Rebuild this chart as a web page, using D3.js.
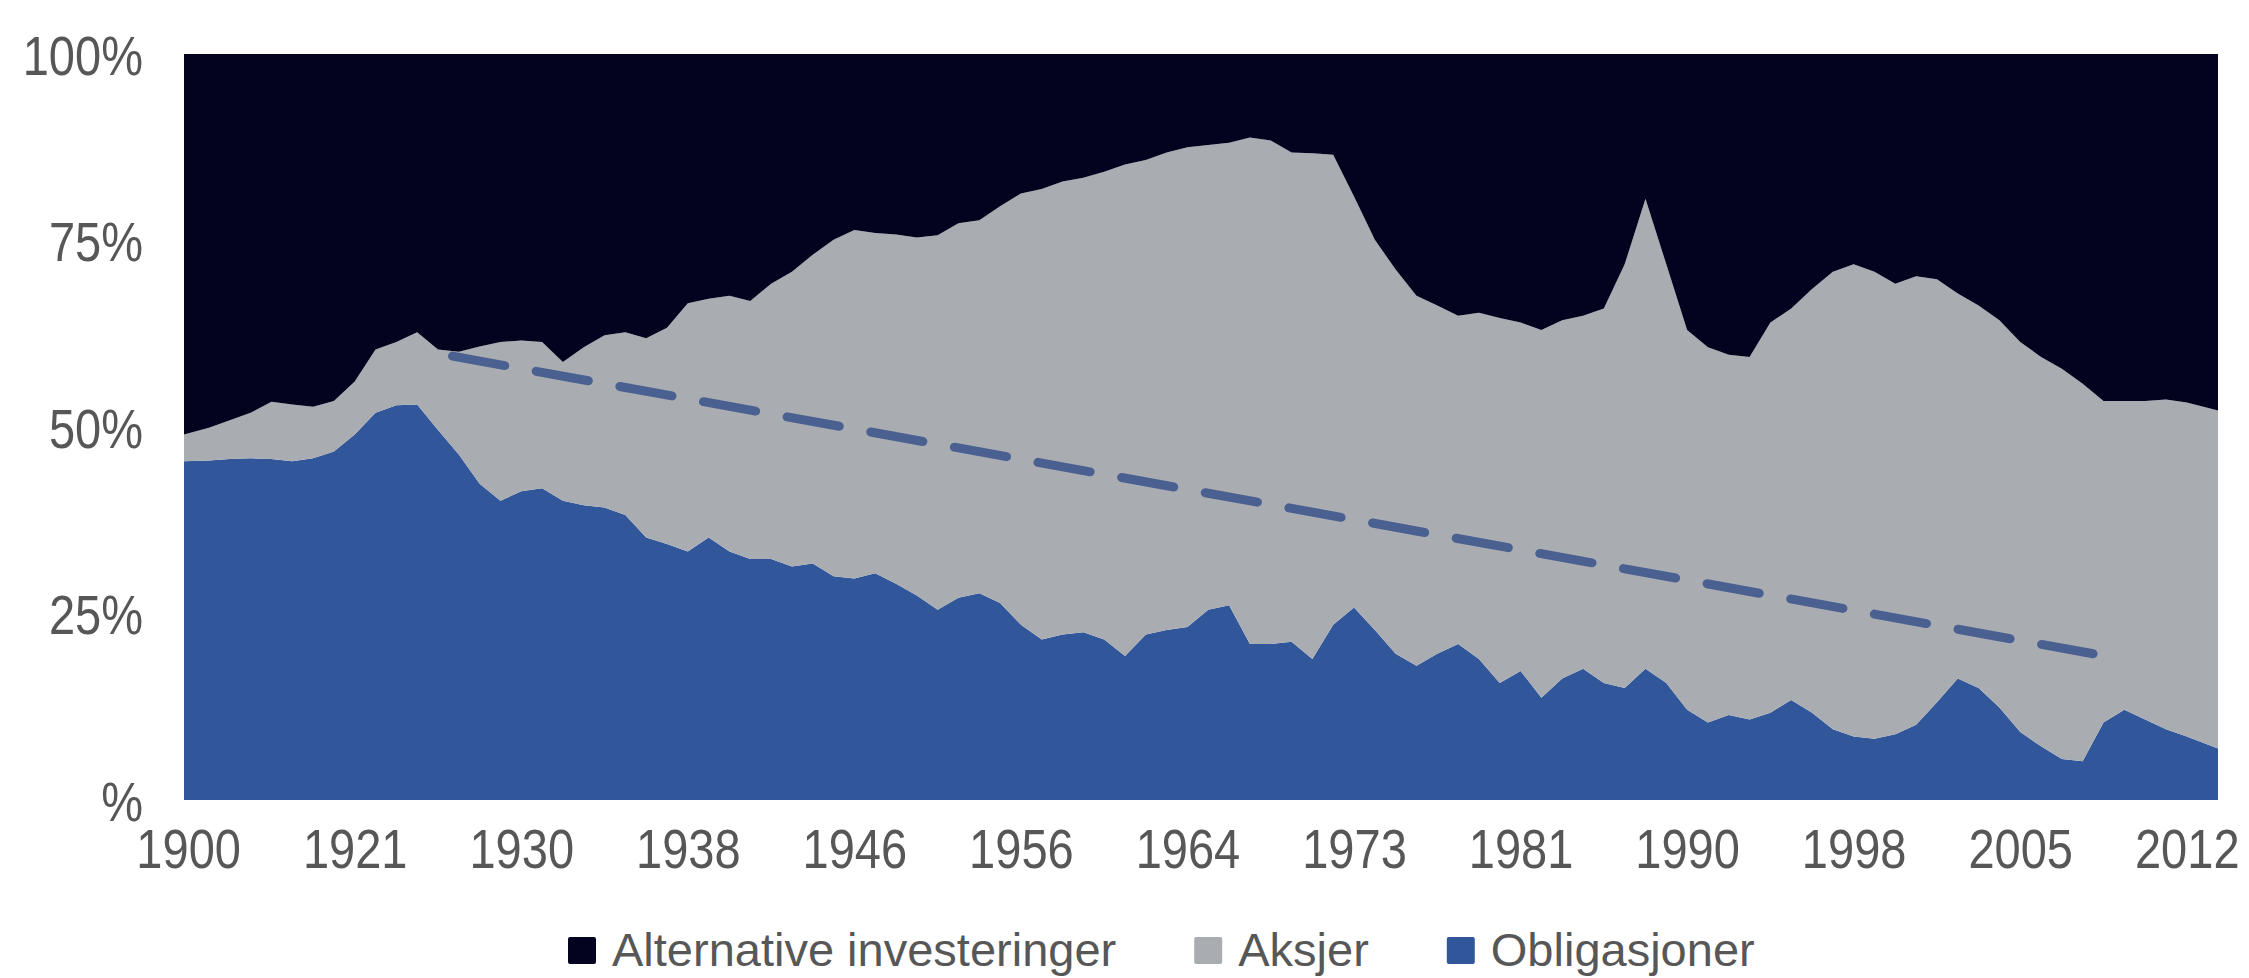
<!DOCTYPE html>
<html>
<head>
<meta charset="utf-8">
<script src="https://cdn.jsdelivr.net/npm/d3@7"></script>
<style>
  body { margin: 0; background: #fff; }
  .axis text { fill: #575757; font-family: "Liberation Sans", Arial, sans-serif; font-size: 56px; }
  .legend text { fill: #575757; font-family: "Liberation Sans", Arial, sans-serif; font-size: 47px; }
</style>
</head>
<body>
<script>
// x tick labels (one every 8 samples)
const xLabels = ['1900', '1921', '1930', '1938', '1946', '1956', '1964', '1973', '1981', '1990', '1998', '2005', '2012']
const yLabels = ['%', '25%', '50%', '75%', '100%']

// share of portfolio, %
const obligasjoner = [
  45.4, 45.5, 45.7, 45.8, 45.7, 45.4, 45.8, 46.7, 49.0, 51.9,
  52.9, 53.0, 49.6, 46.3, 42.4, 40.1, 41.4, 41.8, 40.1, 39.5,
  39.2, 38.2, 35.2, 34.3, 33.3, 35.2, 33.3, 32.3, 32.3, 31.3,
  31.7, 30.0, 29.7, 30.4, 29.0, 27.4, 25.5, 27.1, 27.7, 26.4,
  23.5, 21.5, 22.2, 22.5, 21.5, 19.3, 22.2, 22.8, 23.2, 25.5,
  26.1, 20.9, 20.9, 21.2, 18.9, 23.5, 25.8, 22.8, 19.6, 18.0,
  19.6, 20.9, 18.9, 15.7, 17.3, 13.7, 16.3, 17.6, 15.7, 15.0,
  17.6, 15.7, 12.1, 10.4, 11.4, 10.8, 11.7, 13.4, 11.7, 9.5,
  8.5, 8.2, 8.8, 10.1, 13.1, 16.3, 15.0, 12.4, 9.1, 7.2,
  5.5, 5.2, 10.4, 12.1, 10.8, 9.5, 8.5, 6.9
]
const aksjer = [
  3.6, 4.4, 5.2, 6.1, 7.7, 7.6, 6.9, 6.8, 7.1, 8.5,
  8.5, 9.7, 10.8, 13.8, 18.4, 21.3, 20.2, 19.6, 18.6, 21.2,
  23.1, 24.5, 26.7, 29.0, 33.3, 32.0, 34.3, 34.6, 36.9, 39.5,
  41.4, 45.1, 46.7, 45.6, 46.8, 48.0, 50.2, 50.2, 50.0, 53.2,
  57.8, 60.4, 60.7, 60.9, 62.7, 65.9, 63.6, 64.0, 64.3, 62.3,
  62.0, 67.9, 67.5, 65.6, 67.8, 63.0, 55.1, 52.3, 51.5, 49.6,
  46.7, 44.0, 46.4, 48.9, 46.7, 49.3, 48.0, 47.3, 50.2, 56.8,
  63.0, 56.1, 50.9, 50.3, 48.3, 48.6, 52.3, 52.5, 56.8, 61.3,
  63.3, 62.6, 60.4, 60.1, 56.7, 51.6, 51.3, 51.9, 52.3, 52.2,
  52.3, 50.6, 43.1, 41.4, 42.7, 44.2, 44.8, 45.3
]
const alternative = [
  51.0, 50.1, 49.1, 48.1, 46.6, 47.0, 47.3, 46.5, 43.9, 39.6,
  38.6, 37.3, 39.6, 39.9, 39.2, 38.6, 38.4, 38.6, 41.3, 39.3,
  37.7, 37.3, 38.1, 36.7, 33.4, 32.8, 32.4, 33.1, 30.8, 29.2,
  26.9, 24.9, 23.6, 24.0, 24.2, 24.6, 24.3, 22.7, 22.3, 20.4,
  18.7, 18.1, 17.1, 16.6, 15.8, 14.8, 14.2, 13.2, 12.5, 12.2,
  11.9, 11.2, 11.6, 13.2, 13.3, 13.5, 19.1, 24.9, 28.9, 32.4,
  33.7, 35.1, 34.7, 35.4, 36.0, 37.0, 35.7, 35.1, 34.1, 28.2,
  19.4, 28.2, 37.0, 39.3, 40.3, 40.6, 36.0, 34.1, 31.5, 29.2,
  28.2, 29.2, 30.8, 29.8, 30.2, 32.1, 33.7, 35.7, 38.6, 40.6,
  42.2, 44.2, 46.5, 46.5, 46.5, 46.3, 46.7, 47.8
]

// dashed trend line: sample position and level
const trendPos = [12.7, 91.5]
const trendVal = [59.5, 19.6]

const keys = ['obligasjoner', 'aksjer', 'alternative']
const names = { alternative: 'Alternative investeringer', aksjer: 'Aksjer', obligasjoner: 'Obligasjoner' }
const colors = { alternative: '#03031f', aksjer: '#a9acb1', obligasjoner: '#31579a' }

const table = obligasjoner.map((v, i) => ({
  i: i,
  obligasjoner: v,
  aksjer: aksjer[i],
  alternative: alternative[i]
}))

const width = 2249
const height = 978
const margin = { left: 184, right: 31, top: 54, bottom: 178 }

const svg = d3.select('body')
  .append('svg')
  .attr('width', width)
  .attr('height', height)

const x = d3.scaleLinear()
  .domain([-0.2, 97.5])
  .range([margin.left, width - margin.right])

const y = d3.scaleLinear()
  .domain([0, 100])
  .range([height - margin.bottom, margin.top])

const last = table.length - 1
// first and last sample run out to the plot edges
const xPos = i => i === 0 ? x.domain()[0] : i === last ? x.domain()[1] : i

const series = d3.stack().keys(keys)(table)

const area = d3.area()
  .x(d => x(xPos(d.data.i)))
  .y0(d => y(d[0]))
  .y1(d => y(d[1]))

svg.append('g')
  .selectAll('path')
  .data(series)
  .enter()
  .append('path')
  .attr('fill', d => colors[d.key])
  .attr('d', area)

// trend line
const trend = trendPos.map((p, k) => [p, trendVal[k]])
svg.append('path')
  .attr('d', d3.line().x(d => x(d[0])).y(d => y(d[1]))(trend))
  .attr('fill', 'none')
  .attr('stroke', '#4a6091')
  .attr('stroke-width', 9)
  .attr('stroke-linecap', 'round')
  .attr('stroke-dasharray', '53,32')

// the original labels are set in a narrow face
const squeeze = 0.84

// axes
const xAxis = d3.axisBottom(x)
  .tickValues(xLabels.map((d, j) => j * 8))
  .tickFormat((d, j) => xLabels[j])
  .tickSize(0)
  .tickPadding(48)

svg.append('g')
  .attr('class', 'axis')
  .attr('transform', `translate(0,${height - margin.bottom})`)
  .call(xAxis)
  .call(g => g.select('.domain').remove())
  .selectAll('text')
  .attr('dy', '0.36em')
  .attr('transform', `scale(${squeeze},1)`)

const yPad = 41
const yAxis = d3.axisLeft(y)
  .tickValues([0, 25, 50, 75, 100])
  .tickFormat((d, j) => yLabels[j])
  .tickSize(0)
  .tickPadding(yPad)

svg.append('g')
  .attr('class', 'axis')
  .attr('transform', `translate(${margin.left},0)`)
  .call(yAxis)
  .call(g => g.select('.domain').remove())
  .selectAll('text')
  .attr('dy', '0.36em')
  .attr('x', -yPad / squeeze)
  .attr('transform', `scale(${squeeze},1)`)

// legend
const legendKeys = ['alternative', 'aksjer', 'obligasjoner']
const legend = svg.append('g')
  .attr('class', 'legend')
  .attr('transform', 'translate(568,951)')

let cursor = 0
legendKeys.forEach(k => {
  const item = legend.append('g').attr('transform', `translate(${cursor},0)`)
  item.append('rect')
    .attr('x', 0)
    .attr('y', -14)
    .attr('width', 28)
    .attr('height', 27)
    .attr('rx', 2)
    .attr('fill', colors[k])
  const t = item.append('text')
    .attr('x', 44)
    .attr('y', 15)
    .text(names[k])
  cursor += 44 + t.node().getComputedTextLength() + 78
})
</script>
</body>
</html>
